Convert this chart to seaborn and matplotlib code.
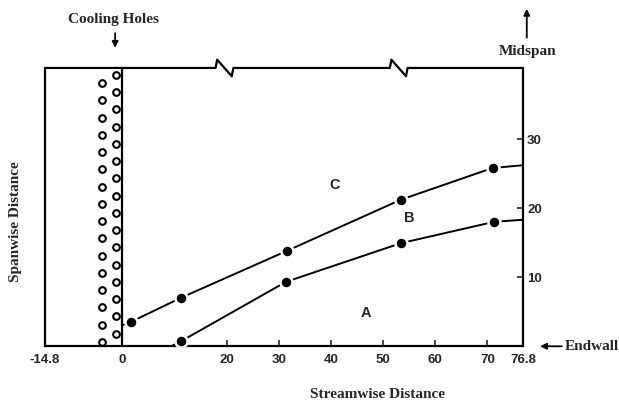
import numpy as np
import pandas as pd
import matplotlib.pyplot as plt
import seaborn as sns

# curve C/B boundary (upper) and B/A boundary (lower)
upper_x = [1.7, 11.3, 31.6, 53.4, 71.0]
upper_y = [3.5, 7.0, 13.8, 21.2, 25.8]
lower_x = [11.3, 31.4, 53.4, 71.3]
lower_y = [0.7, 9.3, 14.9, 18.0]

# line ends where the curves meet the axes
upper_line_x = [0.0] + upper_x + [76.8]
upper_line_y = [3.0] + upper_y + [26.2]
lower_line_x = [9.5] + lower_x + [76.8]
lower_line_y = [0.0] + lower_y + [18.3]

xtick_vals = [-14.8, 0, 20, 30, 40, 50, 60, 70, 76.8]
xtick_labels = ["-14.8", "0", "20", "30", "40", "50", "60", "70", "76.8"]
ytick_vals = [10, 20, 30]

regions = ["A", "B", "C"]
region_x = [46.7, 55.0, 40.8]
region_y = [4.8, 18.5, 23.3]

sns.set_style("white")
plt.rcParams["font.family"] = ["Liberation Serif", "DejaVu Serif"]

fig = plt.figure(figsize=(6.19, 4.05), dpi=100)
ax = fig.add_axes([0.0727, 0.1457, 0.772, 0.6865])

lines = pd.DataFrame({
    "x": upper_line_x + lower_line_x,
    "y": upper_line_y + lower_line_y,
    "curve": ["upper"] * len(upper_line_x) + ["lower"] * len(lower_line_x),
})
sns.lineplot(data=lines, x="x", y="y", hue="curve", palette=["black", "black"],
             linewidth=1.4, legend=False, sort=False, ax=ax)

pts = pd.DataFrame({"x": upper_x + lower_x, "y": upper_y + lower_y})
sns.scatterplot(data=pts, x="x", y="y", color="black", s=75,
                edgecolor="white", linewidth=1.8, zorder=5, ax=ax)

ax.set_xlim(-14.8, 76.8)
ax.set_ylim(0, 40.3)

# spines
for side in ["left", "right", "bottom"]:
    ax.spines[side].set_color("black")
    ax.spines[side].set_linewidth(1.6)
ax.spines["top"].set_visible(False)
ax.axvline(0, color="black", lw=1.6)

# top border with two break marks
top = 40.3
bx = [-14.8, 17.9, 18.2, 21.0, 21.3, 51.3, 51.6, 54.4, 54.7, 76.8]
by = [top, top, top + 1.2, top - 1.2, top, top, top + 1.2, top - 1.2, top, top]
ax.plot(bx, by, color="black", lw=1.6, clip_on=False, solid_capstyle="butt")

# cooling holes
for yy in np.arange(0.6, 40, 2.5):
    ax.plot(-3.9, yy, "o", ms=4.8, mfc="white", mec="black", mew=1.5)
for yy in np.arange(1.8, 40, 2.5):
    ax.plot(-1.1, yy, "o", ms=4.8, mfc="white", mec="black", mew=1.5)

# ticks
ax.set_xticks(xtick_vals)
ax.set_xticklabels(xtick_labels)
ax.set_yticks(ytick_vals)
ax.yaxis.tick_right()
ax.tick_params(axis="x", direction="in", length=4, width=1.2, pad=6,
               labelsize=9.5, bottom=True)
ax.tick_params(axis="y", direction="in", length=4, width=1.2, pad=3,
               labelsize=9.5, right=True, left=False)
for lab in ax.get_xticklabels() + ax.get_yticklabels():
    lab.set_fontweight("bold")
    lab.set_family("Liberation Sans")
for i in (0, 1, len(xtick_vals) - 1):
    ax.xaxis.get_major_ticks()[i].tick1line.set_visible(False)

ax.set_xlabel("")
ax.set_ylabel("")

for name, rx, ry in zip(regions, region_x, region_y):
    ax.text(rx, ry, name, fontsize=10.5, fontweight="bold", family="Liberation Sans",
            ha="center", va="center")

fig.text(0.610, 0.027, "Streamwise Distance", fontsize=11, fontweight="bold",
         ha="center", va="center")
fig.text(0.025, 0.452, "Spanwise Distance", fontsize=11, fontweight="bold",
         rotation=90, ha="center", va="center")
fig.text(0.184, 0.952, "Cooling Holes", fontsize=11, fontweight="bold",
         ha="center", va="center")
fig.text(0.852, 0.872, "Midspan", fontsize=11, fontweight="bold",
         ha="center", va="center")
fig.text(0.912, 0.145, "Endwall", fontsize=11, fontweight="bold",
         ha="left", va="center")

ax.annotate("", xy=(0.186, 0.875), xytext=(0.186, 0.925), xycoords="figure fraction",
            arrowprops=dict(arrowstyle="-|>", color="black", lw=1.3, mutation_scale=9))
ax.annotate("", xy=(0.851, 0.985), xytext=(0.851, 0.9), xycoords="figure fraction",
            arrowprops=dict(arrowstyle="-|>", color="black", lw=1.3, mutation_scale=9))
ax.annotate("", xy=(0.868, 0.145), xytext=(0.912, 0.145), xycoords="figure fraction",
            arrowprops=dict(arrowstyle="-|>", color="black", lw=1.3, mutation_scale=9))

fig.savefig("out.png", dpi=100)
